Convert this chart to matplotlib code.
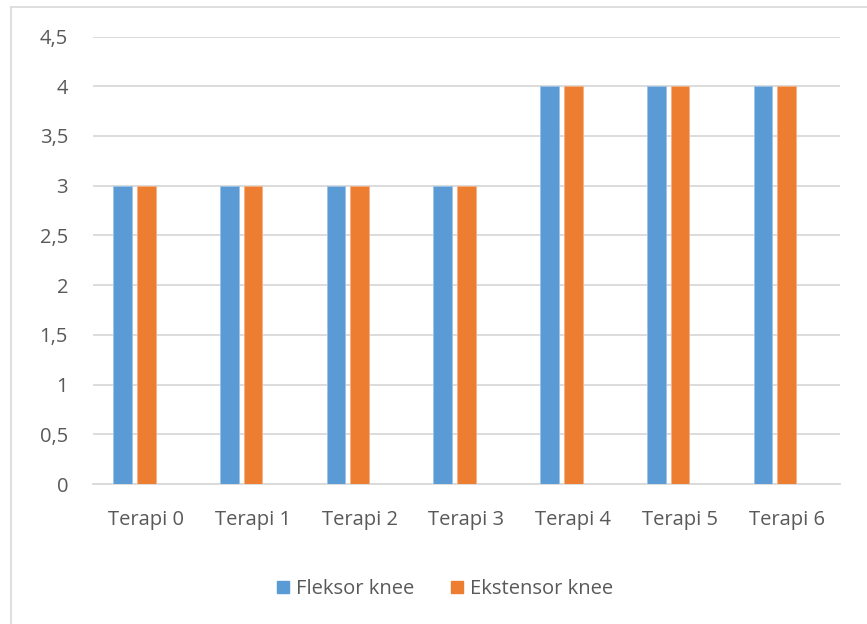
import matplotlib
matplotlib.use("Agg")
import matplotlib.pyplot as plt
from matplotlib.lines import Line2D
from matplotlib.patches import Patch
import numpy as np

categories = ["Terapi 0", "Terapi 1", "Terapi 2", "Terapi 3", "Terapi 4", "Terapi 5", "Terapi 6"]
fleksor = [3, 3, 3, 3, 4, 4, 4]
ekstensor = [3, 3, 3, 3, 4, 4, 4]
series_names = ["Fleksor knee", "Ekstensor knee"]
yticks = [0, 0.5, 1, 1.5, 2, 2.5, 3, 3.5, 4, 4.5]
ytick_labels = ["0", "0,5", "1", "1,5", "2", "2,5", "3", "3,5", "4", "4,5"]

blue = "#5B9BD5"
orange = "#ED7D31"
text_color = "#595959"
grid_color = "#D9D9D9"

plt.rcParams['font.family'] = ['Open Sans', 'DejaVu Sans']

W, H = 867, 624
fig = plt.figure(figsize=(W / 100, H / 100), dpi=100)
ax = fig.add_axes([93 / W, 1 - 484 / H, (840 - 93) / W, (484 - 36.5) / H])

x = np.arange(len(categories))
bw = 0.175
slot = 0.222
ax.bar(x - slot, fleksor, width=bw, color=blue, edgecolor="#9DC3E6", linewidth=0.6, zorder=3)
ax.bar(x, ekstensor, width=bw, color=orange, edgecolor="#F4B183", linewidth=0.6, zorder=3)

ax.set_xlim(-0.5, len(categories) - 0.5)
ax.set_ylim(0, 4.5)
ax.set_yticks(yticks)
ax.set_yticklabels(ytick_labels)
ax.set_xticks(x)
ax.set_xticklabels(categories)
ax.yaxis.grid(True, color=grid_color, linewidth=1.3, zorder=0)
ax.set_axisbelow(True)
for s in ["top", "right", "left"]:
    ax.spines[s].set_visible(False)
ax.spines["bottom"].set_color(grid_color)
ax.spines["bottom"].set_linewidth(1.3)
ax.tick_params(axis="both", length=0, labelsize=14.5, colors=text_color)
ax.tick_params(axis="y", pad=18)
ax.tick_params(axis="x", pad=19)

handles = [Patch(facecolor=blue, edgecolor=blue), Patch(facecolor=orange, edgecolor=orange)]
fig.legend(handles, series_names, loc="center", bbox_to_anchor=(445 / W, 1 - 589 / H),
           ncol=2, frameon=False, fontsize=14.5, labelcolor=text_color,
           handlelength=0.6, handleheight=0.6, handletextpad=0.35, columnspacing=1.8)

# outer chart border (partial, as in reference)
fig.add_artist(Line2D([10.5 / W, 10.5 / W], [0, 1 - 7 / H], color="#D9D9D9", linewidth=1.2, transform=fig.transFigure))
fig.add_artist(Line2D([10.5 / W, 1], [1 - 7 / H, 1 - 7 / H], color="#D9D9D9", linewidth=1.2, transform=fig.transFigure))

fig.savefig("out.png", dpi=100)
